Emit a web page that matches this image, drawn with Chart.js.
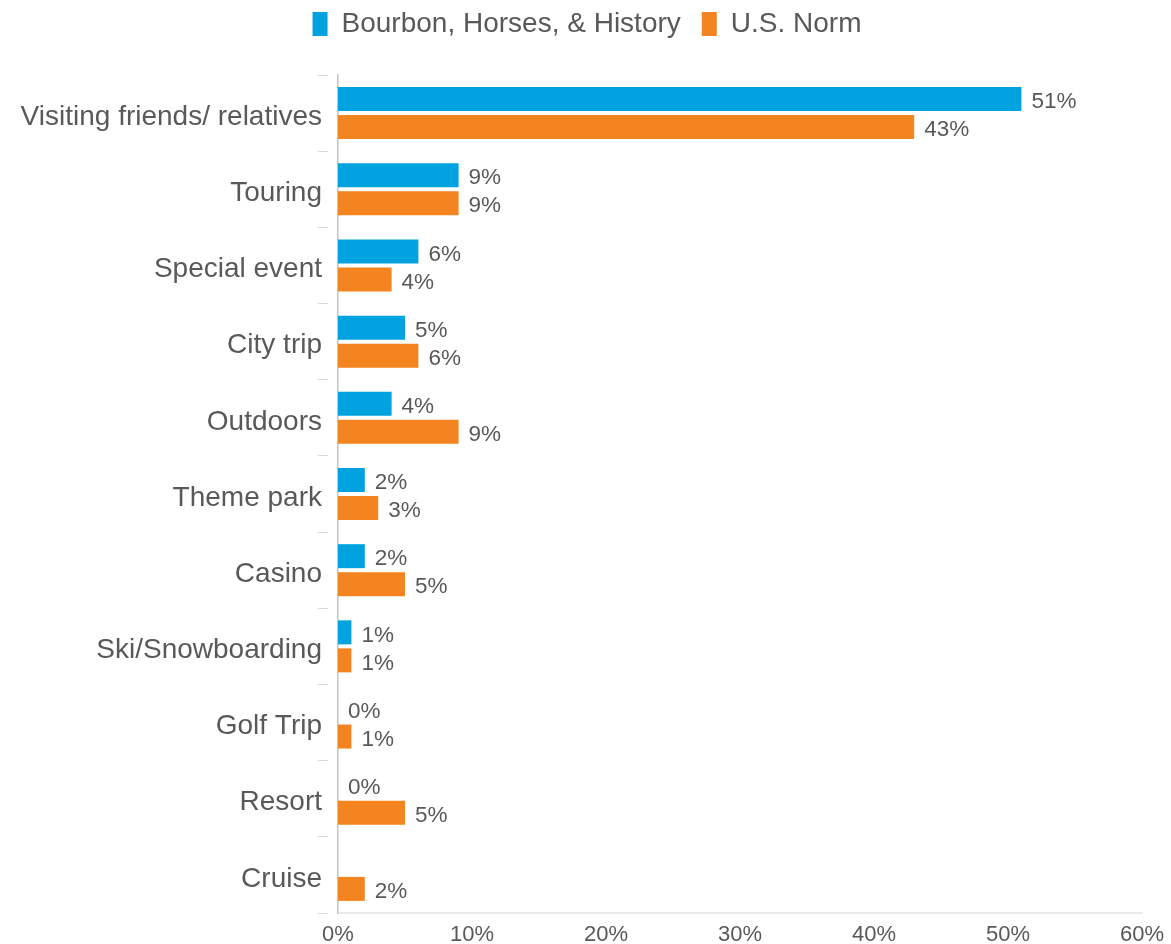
<!DOCTYPE html>
<html>
<head>
<meta charset="utf-8">
<title>Trip purpose</title>
<script src="https://cdn.jsdelivr.net/npm/chart.js@4.4.1/dist/chart.umd.min.js"></script>
<style>
    html, body { margin: 0; padding: 0; background: #fff; }
    #wrap { width: 1171px; height: 944px; }
</style>
</head>
<body>
<div id="wrap"><canvas id="barChart"></canvas></div>
<script>
    const categories = ['Visiting friends/ relatives', 'Touring', 'Special event', 'City trip', 'Outdoors',
        'Theme park', 'Casino', 'Ski/Snowboarding', 'Golf Trip', 'Resort', 'Cruise']
    const bourbonValues = [51, 9, 6, 5, 4, 2, 2, 1, 0, 0, null]
    const usNormValues = [43, 9, 4, 6, 9, 3, 5, 1, 1, 5, 2]
    const xTicks = [0, 10, 20, 30, 40, 50, 60]

    const textColor = '#595959'
    const fontFamily = '"Liberation Sans", Arial, sans-serif'

    // percent labels just past the end of each bar
    const valueLabels = {
        id: 'valueLabels',
        afterDatasetsDraw(chart) {
            const ctx = chart.ctx
            ctx.save()
            ctx.font = '22.5px ' + fontFamily
            ctx.fillStyle = textColor
            ctx.textAlign = 'left'
            ctx.textBaseline = 'middle'
            chart.data.datasets.forEach((ds, i) => {
                chart.getDatasetMeta(i).data.forEach((bar, j) => {
                    const v = ds.data[j]
                    if (v === null) return
                    ctx.fillText(v + '%', bar.x + 10, bar.y + 3)
                })
            })
            ctx.restore()
        }
    }

    // taller legend box (gap above the bars), centred on the whole canvas
    const legendTweak = {
        id: 'legendTweak',
        beforeInit(chart) {
            const legend = chart.legend
            const fit = legend.fit
            const draw = legend.draw
            legend.fit = function () {
                fit.call(legend)
                this.height = 86
            }
            legend.draw = function () {
                const ctx = chart.ctx
                ctx.save()
                ctx.translate(16, 0)
                draw.call(legend)
                ctx.restore()
            }
        }
    }

    const ctx = document.getElementById('barChart').getContext('2d')
    const chart = new Chart(ctx, {
        type: 'bar',
        data: {
            labels: categories,
            datasets: [{
                label: 'Bourbon, Horses, & History',
                data: bourbonValues,
                backgroundColor: '#00A2DF',
                categoryPercentage: 0.735,
                barPercentage: 0.857
            }, {
                label: 'U.S. Norm',
                data: usNormValues,
                backgroundColor: '#F4841F',
                categoryPercentage: 0.735,
                barPercentage: 0.857
            }]
        },
        options: {
            indexAxis: 'y',
            responsive: true,
            maintainAspectRatio: false,
            animation: false,
            layout: {padding: {left: 0, right: 29, top: -11, bottom: 0}},
            plugins: {
                tooltip: {enabled: false},
                legend: {
                    position: 'top',
                    labels: {
                        color: textColor,
                        font: {family: fontFamily, size: 28},
                        boxWidth: 15,
                        boxHeight: 24,
                        padding: 21
                    }
                }
            },
            scales: {
                x: {
                    min: 0,
                    max: 60,
                    afterBuildTicks: scale => {
                        scale.ticks = xTicks.map(v => ({value: v}))
                    },
                    afterFit: scale => {
                        scale.height = 31
                        scale.paddingRight = 0
                    },
                    grid: {display: false, drawTicks: false},
                    border: {display: true, color: '#ebebeb', width: 2},
                    ticks: {
                        color: textColor,
                        font: {family: fontFamily, size: 22},
                        padding: 9,
                        maxRotation: 0,
                        callback: v => v + '%'
                    }
                },
                y: {
                    afterFit: scale => {
                        scale.width = 338
                    },
                    grid: {
                        offset: true,
                        drawOnChartArea: false,
                        tickLength: 20,
                        tickBorderDash: [10, 10],
                        tickColor: '#d9d9d9'
                    },
                    border: {color: '#c4c4c4', width: 1.5},
                    ticks: {
                        color: textColor,
                        font: {family: fontFamily, size: 28},
                        padding: -4,
                        labelOffset: 4
                    }
                }
            }
        },
        plugins: [valueLabels, legendTweak]
    })
</script>
</body>
</html>
